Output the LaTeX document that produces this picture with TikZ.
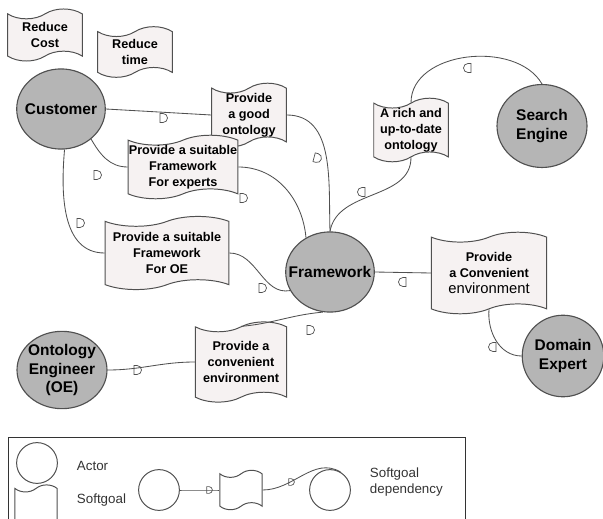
\documentclass[tikz,border=0pt]{standalone}
\usepackage{fontspec}
\setmainfont{Liberation Sans}
\usetikzlibrary{shapes.geometric,shapes.symbols}
\definecolor{actfill}{HTML}{B5B5B5}
\definecolor{sgfill}{HTML}{F6F2F2}
\definecolor{edge}{HTML}{505050}
\tikzset{
  actor/.style={ellipse, draw=edge, fill=actfill, line width=0.8pt, minimum width=63pt, minimum height=57pt,
    inner xsep=-8pt, inner ysep=-2pt, align=center, font=\fontsize{11}{13.5}\selectfont\bfseries},
  softgoal/.style 2 args={tape, draw=edge, fill=sgfill, line width=0.7pt, tape bend height=7pt,
    minimum width=#1, minimum height=#2, inner sep=0pt, align=center, font=\fontsize{9}{11.4}\selectfont\bfseries},
  lactor/.style={circle, draw=edge, fill=white, line width=0.7pt, minimum size=29pt, inner sep=0pt},
  link/.style={draw=edge, line width=0.6pt},
  legtext/.style={anchor=west, align=left, text=black!80, font=\fontsize{9.5}{12}\selectfont},
  dmark/.pic={\draw[edge, line width=0.5pt] (-3,4.5) -- (-3,-4.5) -- (0,-4.5) arc (-90:90:4.5) -- cycle;}
}
\begin{document}
\begin{tikzpicture}[x=0.025cm, y=0.025cm]
\useasboundingbox (0,0) rectangle (603,-518);
\node[softgoal={53pt}{37pt}] (rcost) at (45,-35) {Reduce\\Cost};
\node[softgoal={53pt}{36pt}] (rtime) at (135,-52) {Reduce\\time};
\node[actor] (cust) at (61,-109) {Customer};
\node[softgoal={53pt}{39pt}] (good) at (249,-115) {Provide\\a good\\ontology};
\node[softgoal={78pt}{43pt}] (exp) at (183,-167) {Provide a suitable\\Framework\\For experts};
\node[actor, minimum width=64pt, minimum height=59pt] (seng) at (542,-126) {Search\\Engine};
\node[softgoal={53pt}{40pt}] (rich) at (411,-130) {A rich and\\up-to-date\\ontology};
\node[softgoal={88pt}{52pt}] (oesg) at (167,-253) {Provide a suitable\\Framework\\For OE};
\node[actor] (fw) at (330,-272) {Framework};
\node[softgoal={82pt}{58pt}] (conv) at (489,-273) {Provide\\a Convenient\\{\fontsize{10.5}{12}\selectfont\mdseries environment}};
\node[actor, minimum width=58pt, minimum height=58pt] (dexp) at (563,-356) {Domain\\Expert};
\node[actor, minimum width=64pt, minimum height=55pt] (oe) at (62,-370) {Ontology\\Engineer\\(OE)};
\node[softgoal={65pt}{57pt}] (lconv) at (241,-362) {Provide a\\convenient\\environment};

\draw[link] (cust.east) -- (good.west);
\draw[link] (cust.-45) to[out=-60,in=180] (exp.west);
\draw[link] (cust.-85) to[out=-95,in=180] (oesg.west);
\draw[link] (good.east) to[out=0,in=92] (fw.north);
\draw[link] (exp.east) to[out=0,in=95] (fw.125);
\draw[link] (oesg.east) to[out=0,in=190] (fw.205);
\draw[link] (fw.north) to[out=80,in=-90] (rich.south);
\draw[link] (rich.north) to[out=90,in=120] (seng.north);
\draw[link] (fw.east) -- (conv.west);
\draw[link] (conv.south) to[out=-95,in=180] (dexp.west);
\draw[link] (fw.-100) to[out=185,in=5] (lconv.north);
\draw[link] (oe.east) to[out=0,in=180] (lconv.west);

\pic at (163,-118) {dmark};
\pic at (97,-175) {dmark};
\pic at (80,-223) {dmark};
\pic[rotate=-15] at (317,-158) {dmark};
\pic at (243,-198) {dmark};
\pic at (262,-288) {dmark};
\pic[xscale=-1] at (362,-192) {dmark};
\pic[xscale=-1] at (468,-68) {dmark};
\pic[xscale=-1] at (403,-282) {dmark};
\pic[xscale=-1] at (493,-347) {dmark};
\pic at (310,-330) {dmark};
\pic at (137,-370) {dmark};

\draw[black!80, line width=0.6pt] (8,-437) rectangle (465,-540);
\node[lactor] (lact) at (37,-463) {};
\node[softgoal={30pt}{30pt}, fill=white, tape bend height=5pt] (lsg) at (36,-506) {};
\node[legtext] (tact) at (72,-466) {Actor};
\node[legtext] (tsg) at (72,-500) {Softgoal};
\node[lactor] (lc1) at (159,-490) {};
\node[softgoal={30pt}{28pt}, fill=white, tape bend height=5pt] (lsg2) at (241,-490) {};
\node[lactor] (lc2) at (330,-490) {};
\node[legtext] (tdep) at (365,-482) {Softgoal\\dependency};
\draw[link] (lc1.east) to[out=0,in=180] (lsg2.west);
\draw[link] (lsg2.east) to[out=0,in=150] (lc2.60);
\pic[scale=0.75] at (209,-490) {dmark};
\pic[scale=0.75] at (291,-482) {dmark};
\end{tikzpicture}
\end{document}
